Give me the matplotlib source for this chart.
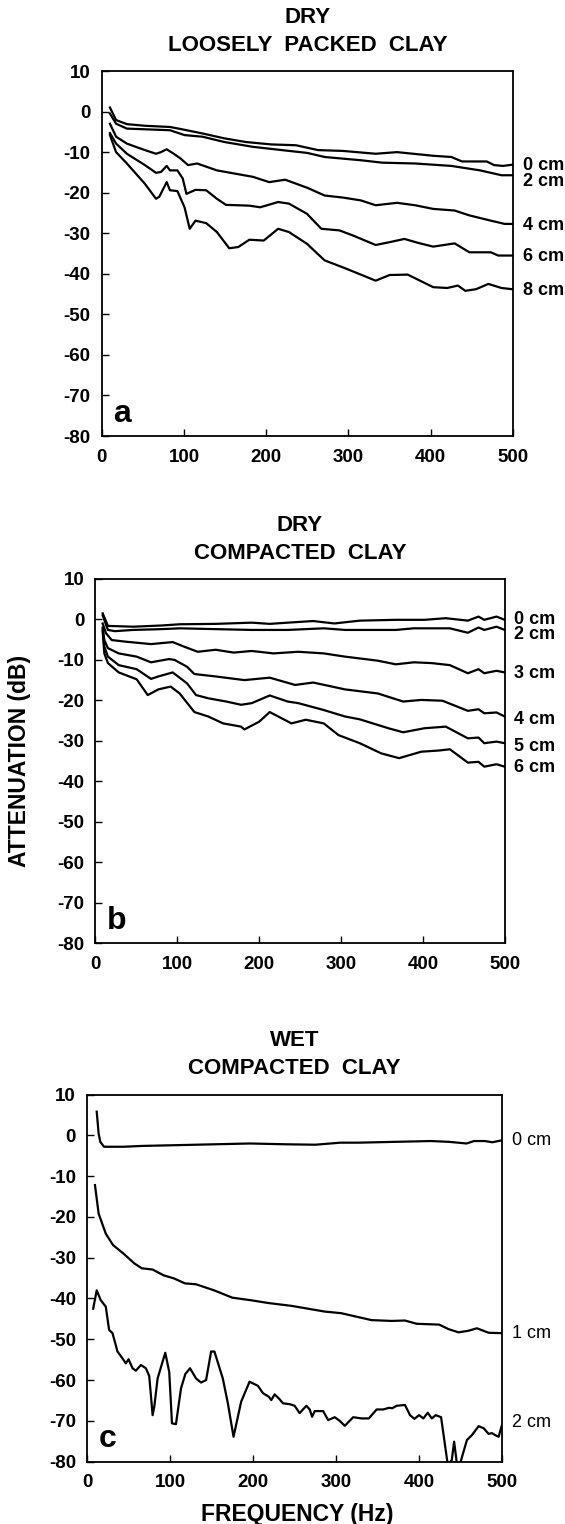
import matplotlib
matplotlib.use('Agg')
import matplotlib.pyplot as plt

plt.rcParams['font.family'] = ['Liberation Sans', 'DejaVu Sans']
plt.rcParams['font.weight'] = 'bold'
plt.rcParams['axes.unicode_minus'] = False

# panel a - dry, loosely packed clay
a_0cm_f = [10, 17.5, 30.6, 52.5, 83, 96, 122.6, 149, 175, 206, 236, 263, 293, 333, 359, 403, 425, 438, 468, 477, 488, 499]
a_0cm_db = [1.0, -2.1, -3.1, -3.5, -3.8, -4.3, -5.4, -6.6, -7.5, -8.1, -8.3, -9.5, -9.7, -10.4, -10.0, -10.9, -11.2, -12.3, -12.3, -13.2, -13.4, -13.1]
a_2cm_f = [10, 17.5, 30.6, 83, 100.7, 122.6, 149, 184, 219, 250, 271, 315, 341, 381, 425, 460, 486, 499]
a_2cm_db = [-0.5, -3.0, -4.2, -4.6, -5.8, -6.2, -7.5, -8.7, -9.5, -10.2, -11.2, -12.0, -12.6, -12.8, -13.4, -14.5, -15.7, -15.7]
a_4cm_f = [10, 17.5, 30.6, 52.5, 66, 72, 79, 87.6, 96, 105, 116, 140, 162, 184, 203.6, 223, 250, 271, 293, 315, 333, 359, 381, 403, 429, 447, 473, 490, 499]
a_4cm_db = [-3.0, -6.2, -7.9, -9.5, -10.4, -10.0, -9.3, -10.4, -11.6, -13.2, -12.8, -14.5, -15.3, -16.1, -17.4, -16.8, -18.8, -20.7, -21.2, -21.9, -23.1, -22.5, -23.1, -24.0, -24.4, -25.6, -26.9, -27.7, -27.7]
a_6cm_f = [10, 17.5, 30.6, 52.5, 66, 72, 79, 83, 92, 98.5, 103, 114, 127, 140, 151, 179.5, 192.6, 214.5, 227.6, 249.5, 267, 289, 306, 333, 350, 368, 385, 403, 429, 447, 473, 482, 499]
a_6cm_db = [-5.3, -7.9, -10.4, -13.2, -15.1, -14.9, -13.4, -14.5, -14.5, -16.5, -20.3, -19.3, -19.4, -21.5, -23.0, -23.2, -23.6, -22.3, -22.7, -25.2, -28.9, -29.3, -30.6, -32.9, -32.2, -31.4, -32.4, -33.3, -32.5, -34.7, -34.7, -35.5, -35.5]
a_8cm_f = [10, 17.5, 30.6, 52.5, 66, 70, 79, 83, 92, 100.7, 107, 114, 127, 140, 155, 166, 179.5, 197, 214.5, 227.6, 249.5, 271, 293, 315, 333, 350, 372, 403, 420, 433, 442, 455, 470, 486, 499]
a_8cm_db = [-5.8, -10.0, -12.8, -17.8, -21.5, -21.0, -17.4, -19.4, -19.6, -23.6, -28.9, -26.9, -27.5, -29.7, -33.7, -33.4, -31.6, -31.8, -28.9, -29.7, -32.6, -36.7, -38.4, -40.2, -41.7, -40.3, -40.2, -43.3, -43.5, -42.9, -44.2, -43.8, -42.5, -43.5, -43.8]

# panel b - dry, compacted clay
b_0cm_f = [9, 15.4, 46, 81, 103, 147, 191, 213, 235, 266, 292, 323, 367, 402, 428, 455, 468, 475, 490, 500]
b_0cm_db = [1.5, -1.6, -1.8, -1.5, -1.2, -1.1, -0.8, -1.1, -0.8, -0.4, -1.0, -0.3, -0.1, -0.1, 0.3, -0.3, 0.7, -0.1, 0.7, -0.1]
b_2cm_f = [9, 15.4, 24, 46, 81, 103, 147, 191, 235, 279, 305, 367, 389, 433, 455, 468, 475, 490, 500]
b_2cm_db = [1.0, -2.6, -2.9, -2.6, -2.4, -2.2, -2.4, -2.6, -2.6, -2.2, -2.6, -2.6, -2.2, -2.2, -3.3, -2.0, -2.6, -1.8, -2.6]
b_3cm_f = [9, 13, 20, 37, 68, 94.5, 108, 125, 147, 169, 191, 217.5, 248, 279, 305, 345, 367, 389, 411, 433, 455, 468, 475, 490, 500]
b_3cm_db = [-1.0, -3.4, -5.1, -5.5, -6.1, -5.6, -6.7, -8.0, -7.5, -8.2, -7.8, -8.4, -8.0, -8.4, -9.2, -10.2, -11.1, -10.6, -10.8, -11.3, -13.3, -12.3, -13.3, -12.7, -13.1]
b_4cm_f = [9, 11, 15.4, 28.6, 50.5, 68, 90, 96.7, 112, 121, 147, 182, 213, 244, 266, 305, 345, 376, 398, 424, 455, 468, 475, 490, 500]
b_4cm_db = [-2.0, -5.1, -7.1, -8.4, -9.2, -10.6, -9.8, -10.0, -11.7, -13.5, -14.1, -15.0, -14.4, -16.2, -15.6, -17.3, -18.3, -20.3, -19.9, -20.1, -22.6, -22.2, -23.2, -23.0, -24.0]
b_5cm_f = [9, 11, 15.4, 28.6, 50.5, 68, 77, 94.5, 112, 123, 138, 160, 178, 191, 213, 235, 248, 279, 305, 323, 358, 376, 402, 428, 455, 468, 475, 490, 500]
b_5cm_db = [-2.5, -6.7, -9.2, -11.3, -12.3, -14.7, -14.1, -13.1, -15.8, -18.7, -19.5, -20.3, -21.1, -20.7, -18.8, -20.3, -20.7, -22.4, -24.0, -24.7, -26.9, -27.9, -26.9, -26.5, -29.4, -29.2, -30.6, -30.2, -30.6]
b_6cm_f = [9, 11, 15.4, 28.6, 50.5, 64, 77, 92, 103, 121, 138, 156, 178, 182, 200, 213, 239.5, 257, 279, 297, 323, 349, 371, 398, 420, 433, 455, 468, 475, 490, 500]
b_6cm_db = [-3.0, -8.4, -10.8, -13.1, -14.8, -18.7, -17.3, -16.6, -18.3, -22.9, -24.0, -25.7, -26.5, -27.2, -25.3, -22.9, -25.7, -24.8, -25.7, -28.6, -30.6, -33.1, -34.3, -32.7, -32.4, -32.1, -35.4, -35.2, -36.4, -35.8, -36.4]

# panel c - wet, compacted clay
c_0cm_f = [11.7, 14, 16, 20.4, 44, 66, 110, 153, 196.5, 240, 275, 305, 327, 370, 414, 436, 457, 466, 479, 488, 500]
c_0cm_db = [5.8, 0.4, -1.6, -2.8, -2.8, -2.6, -2.4, -2.2, -2.0, -2.2, -2.3, -1.8, -1.8, -1.6, -1.4, -1.6, -2.0, -1.4, -1.4, -1.7, -1.2]
c_1cm_f = [9.6, 14, 22.6, 31.3, 44, 57, 66, 79, 92, 105, 118, 131, 153, 175, 196.5, 218, 246, 286, 306, 342.6, 366.7, 382.8,
           397, 424, 435.2, 447.3, 459.4, 469.4, 483.6, 500]
c_1cm_db = [-12.2, -19.2, -24.1, -26.9, -29.0, -31.4, -32.6, -32.9, -34.3, -35.1, -36.3, -36.5, -38.0, -39.8, -40.4, -41.1, -41.8, -43.2, -43.6, -45.3, -45.5, -45.4,
            -46.2, -46.4, -47.5, -48.3, -47.9, -47.3, -48.4, -48.5]
c_2cm_f = [7.4, 11.7, 16.5, 22.6, 26.6, 30.7, 36.7, 42.8, 46.7, 50, 54.8, 58.8, 64.9, 70.9, 74.9, 79, 81, 85, 94.2, 99,
           102.3, 107.1, 113.2, 118.4, 124, 131.3, 137.3, 143.4, 149.4, 153.4, 163.5, 169.6, 176.4, 185.6, 195.7, 199.7,
           205.8, 211.8, 219, 221.9, 225.9, 231.9, 236, 244, 250, 256, 264.1, 268.1, 271, 274.2, 284.3, 290.3, 298.3,
           304.3, 310.4, 320.5, 330.6, 339.4, 348.7, 356.7, 363.5, 367.6, 372.8, 382.8, 388.9, 394.2, 399.8, 405, 410.2,
           415.1, 419.9, 426.3, 434.4, 439.2, 442, 445.3, 449.3, 457.4, 463.4, 471.5, 477.5, 483.6, 487.5, 491.5, 495.6, 499.6]
c_2cm_db = [-42.5, -38.0, -40.4, -42.0, -47.7, -48.5, -53.0, -54.7, -55.9, -54.9, -57.1, -57.7, -56.3, -57.1, -59.0, -68.6, -66.5, -59.6, -53.3, -58.0,
            -70.6, -70.8, -62.0, -58.5, -57.1, -59.6, -60.6, -60.0, -53.0, -53.0, -59.6, -65.7, -73.9, -65.3, -60.4, -60.8,
            -61.4, -63.2, -64.1, -64.9, -63.5, -64.7, -65.7, -65.9, -66.3, -68.1, -66.3, -67.2, -69.0, -67.6, -67.6, -69.8, -69.1,
            -70.0, -71.2, -69.1, -69.4, -69.4, -67.2, -67.2, -66.8, -66.9, -66.3, -66.1, -68.6, -69.5, -68.6, -69.4, -68.0,
            -69.4, -68.6, -69.1, -80.8, -79.6, -75.1, -80.4, -80.4, -74.7, -73.5, -71.3, -71.8, -73.2, -73.0, -73.5, -73.9, -71.0]

panels = [
    {'axpos': [0.180, 0.7139, 0.728, 0.2395], 'top': 'DRY', 'sub': 'LOOSELY  PACKED  CLAY', 'letter': 'a',
     'curves': [(a_0cm_f, a_0cm_db), (a_2cm_f, a_2cm_db), (a_4cm_f, a_4cm_db), (a_6cm_f, a_6cm_db), (a_8cm_f, a_8cm_db)],
     'labels': ['0 cm', '2 cm', '4 cm', '6 cm', '8 cm'], 'label_y': [-13.2, -17.3, -28.0, -35.8, -44.0], 'lw': 'bold'},
    {'axpos': [0.1687, 0.3812, 0.7246, 0.2389], 'top': 'DRY', 'sub': 'COMPACTED  CLAY', 'letter': 'b',
     'curves': [(b_0cm_f, b_0cm_db), (b_2cm_f, b_2cm_db), (b_3cm_f, b_3cm_db), (b_4cm_f, b_4cm_db), (b_5cm_f, b_5cm_db), (b_6cm_f, b_6cm_db)],
     'labels': ['0 cm', '2 cm', '3 cm', '4 cm', '5 cm', '6 cm'], 'label_y': [-0.1, -3.8, -13.3, -24.8, -31.4, -36.5], 'lw': 'bold'},
    {'axpos': [0.154, 0.0409, 0.735, 0.2409], 'top': 'WET', 'sub': 'COMPACTED  CLAY', 'letter': 'c',
     'curves': [(c_0cm_f, c_0cm_db), (c_1cm_f, c_1cm_db), (c_2cm_f, c_2cm_db)],
     'labels': ['0 cm', '1 cm', '2 cm'], 'label_y': [-1.2, -48.6, -70.5], 'lw': 'normal'},
]

fig = plt.figure(figsize=(5.65, 15.24), dpi=100)

for p in panels:
    ax = fig.add_axes(p['axpos'])
    for f, db in p['curves']:
        ax.plot(f, db, color='black', lw=1.6)
    ax.set_xlim(0, 500)
    ax.set_ylim(-80, 10)
    ax.set_xticks(range(0, 501, 100))
    ax.set_yticks(range(-80, 11, 10))
    ax.tick_params(direction='in', length=5, width=1, labelsize=13.5, top=False, right=False)
    ax.tick_params(axis='y', pad=8)
    ax.tick_params(axis='x', pad=9)
    for s in ax.spines.values():
        s.set_linewidth(1.3)
    for lab, y in zip(p['labels'], p['label_y']):
        ax.annotate(lab, xy=(1, y), xycoords=('axes fraction', 'data'), xytext=(7, 0),
                    textcoords='offset points', va='center', ha='left', fontsize=13,
                    fontweight=p['lw'], annotation_clip=False)
    ax.text(14, -76.5, p['letter'], fontsize=23, fontweight='bold', va='baseline', ha='left')
    ax.text(0.5, 1.07, p['sub'], transform=ax.transAxes, ha='center', va='center', fontsize=16)
    ax.text(0.5, 1.147, p['top'], transform=ax.transAxes, ha='center', va='center', fontsize=16)

fig.text(20 / 565, 1 - 761 / 1524, 'ATTENUATION (dB)', rotation=90, ha='center', va='center', fontsize=16.5)
fig.text(297 / 565, 1 - 1514 / 1524, 'FREQUENCY (Hz)', ha='center', va='center', fontsize=16.5)

fig.savefig('out.png', dpi=100)
